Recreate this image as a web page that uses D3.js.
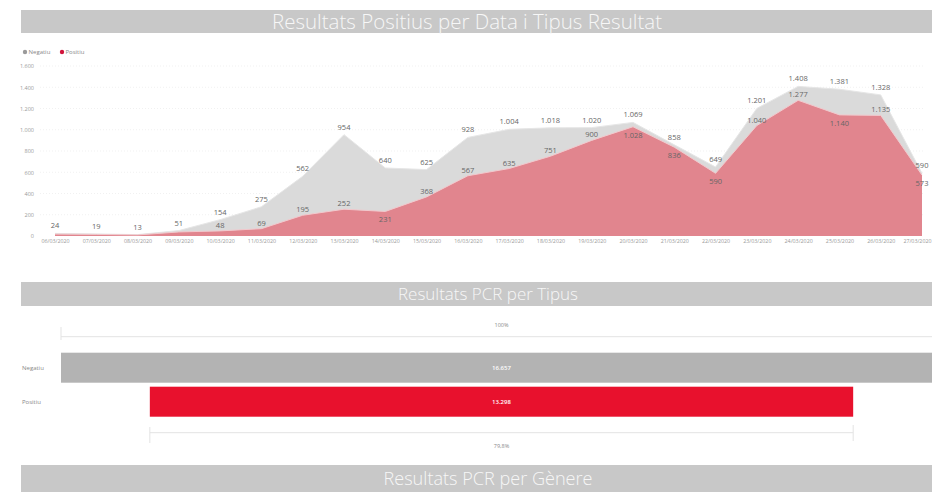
<!DOCTYPE html>
<html><head><meta charset="utf-8">
<script src="https://cdn.jsdelivr.net/npm/d3@7"></script>
<style>
body{margin:0;background:#fff;}
svg{display:block;font-family:"Open Sans","Noto Sans",sans-serif;}
</style>
</head><body>
<svg id="c" width="932" height="494"></svg>
<script>
// ---------- data ----------
const dates = ["06/03/2020","07/03/2020","08/03/2020","09/03/2020","10/03/2020","11/03/2020","12/03/2020","13/03/2020","14/03/2020","15/03/2020","16/03/2020","17/03/2020","18/03/2020","19/03/2020","20/03/2020","21/03/2020","22/03/2020","23/03/2020","24/03/2020","25/03/2020","26/03/2020","27/03/2020"];
const negatiu = [24,19,13,51,154,275,562,954,640,625,928,1004,1018,1020,1069,858,649,1201,1408,1381,1328,590];
const positiu = [18,15,10,38,48,69,195,252,231,368,567,635,751,900,1028,836,590,1040,1277,1140,1135,573];
const yTicks = [0,200,400,600,800,1000,1200,1400,1600];
const seriesNames = ["Negatiu","Positiu"];
const funnelCats = ["Negatiu","Positiu"];
const funnelVals = [16657,13298];
const titles = ["Resultats Positius per Data i Tipus Resultat","Resultats PCR per Tipus","Resultats PCR per Gènere"];

// ---------- setup ----------
const loc = d3.formatLocale({decimal:",",thousands:".",grouping:[3],currency:["","€"]});
const fmt = loc.format(",d");
const pct = loc.format(".1%");
const svg = d3.select("#c");
const greyFill = "#dadada", redFill = "#e1858e";
const greyDot = "#9a9a9a", redDot = "#d1143c";

// title bars
const bars = [
  {y:10,h:23,cx:467,w:390,fs:20},
  {y:282,h:24,cx:488,w:180,fs:17},
  {y:465,h:27,cx:488,w:209,fs:18}
];
bars.forEach((b,i)=>{
  svg.append("rect").attr("x",21).attr("y",b.y).attr("width",911).attr("height",b.h).attr("fill","#c8c8c8");
  svg.append("text").attr("x",b.cx).attr("y",b.y+b.h/2).attr("dy","0.35em")
    .attr("text-anchor","middle").attr("fill","#f7f7f7").attr("font-size",b.fs)
    .attr("font-weight",300)
    .attr("textLength",b.w).attr("lengthAdjust","spacingAndGlyphs").text(titles[i]);
});

// legend
const lg = svg.append("g").attr("font-size",6).attr("fill","#888");
const legX = [25,62];
seriesNames.forEach((n,i)=>{
  lg.append("circle").attr("cx",legX[i]).attr("cy",52).attr("r",2.2).attr("fill",i?redDot:greyDot);
  lg.append("text").attr("x",legX[i]+3.5).attr("y",52).attr("dy","0.35em").text(n);
});

// ---------- area chart ----------
const x = d3.scalePoint(dates,[55,922]);
const y = d3.scaleLinear([0,1600],[236,66]);

// gridlines
svg.append("g").selectAll("line").data(yTicks.slice(1)).join("line")
  .attr("x1",40).attr("x2",925).attr("y1",d=>y(d)).attr("y2",d=>y(d))
  .attr("stroke","#f1f1f1").attr("stroke-dasharray","1,2");

// y axis
const yAxis = d3.axisLeft(y).tickValues(yTicks).tickFormat(fmt).tickSize(0).tickPadding(0);
const ya = svg.append("g").attr("transform","translate(34,0)").call(yAxis);
ya.select(".domain").remove();
ya.selectAll("text").attr("font-size",5.5).attr("fill","#999").attr("font-family","Open Sans");

// x axis
const xAxis = d3.axisBottom(x).tickSize(0).tickPadding(3);
const xa = svg.append("g").attr("transform","translate(0,236)").call(xAxis);
xa.select(".domain").remove();
xa.selectAll("text").attr("font-size",5.3).attr("fill","#999").attr("font-family","Open Sans");
xa.selectAll(".tick").filter(d=>d===dates[dates.length-1]).select("text")
  .attr("text-anchor","end").attr("dx",9);

const area = vals => d3.area().x((d,i)=>x(dates[i])).y0(y(0)).y1(d=>y(d))(vals);
const line = vals => d3.line().x((d,i)=>x(dates[i])).y(d=>y(d))(vals);
svg.append("path").attr("d",area(negatiu)).attr("fill",greyFill);
svg.append("path").attr("d",line(negatiu)).attr("fill","none").attr("stroke","#e6e6e6").attr("stroke-width",1);
svg.append("path").attr("d",area(positiu)).attr("fill",redFill);
svg.append("path").attr("d",line(positiu)).attr("fill","none").attr("stroke","#f2c9cd").attr("stroke-width",1);

// data labels
const lab = svg.append("g").attr("font-size",7.5).attr("fill","#666").attr("text-anchor","middle");
negatiu.forEach((v,i)=>{
  lab.append("text").attr("x",x(dates[i])).attr("y",y(v)-5).text(fmt(v));
});
positiu.forEach((v,i)=>{
  if(v<45) return;
  const prev = i>0?positiu[i-1]:Infinity, next = i<positiu.length-1?positiu[i+1]:-Infinity;
  const localMin = v<=prev && v<=next+10;
  const below = (negatiu[i]-v<70) || localMin;
  lab.append("text").attr("x",x(dates[i])).attr("y",below? y(v)+11 : y(v)-3).text(fmt(v));
});

// ---------- funnel ----------
const maxF = d3.max(funnelVals);
const fw = d3.scaleLinear([0,maxF],[0,881]);
const fy = d3.scaleBand(funnelCats,[352.7,416.7]).paddingInner(4/34).paddingOuter(0);
const fcx = 501.5;
const fcol = ["#b3b3b3","#e8112d"];
svg.append("g").selectAll("rect").data(funnelVals).join("rect")
  .attr("x",d=>fcx-fw(d)/2).attr("y",(d,i)=>fy(funnelCats[i]))
  .attr("width",d=>fw(d)).attr("height",fy.bandwidth()).attr("fill",(d,i)=>fcol[i]);
svg.append("g").selectAll("text").data(funnelVals).join("text")
  .attr("x",fcx).attr("y",(d,i)=>fy(funnelCats[i])+fy.bandwidth()/2).attr("dy","0.35em")
  .attr("text-anchor","middle").attr("font-size",6).attr("font-weight",600).attr("fill","#fff")
  .text(d=>fmt(d));
svg.append("g").selectAll("text").data(funnelCats).join("text")
  .attr("x",22).attr("y",d=>fy(d)+fy.bandwidth()/2).attr("dy","0.35em")
  .attr("font-size",6).attr("fill","#888").text(d=>d);

// brackets
const br = svg.append("g").attr("stroke","#e3e3e3").attr("stroke-width",1).attr("fill","none");
const topL = fcx-fw(funnelVals[0])/2, topR = fcx+fw(funnelVals[0])/2;
br.append("line").attr("x1",topL).attr("x2",topR).attr("y1",336.7).attr("y2",336.7);
br.append("line").attr("x1",topL).attr("x2",topL).attr("y1",327).attr("y2",340);
const botL = fcx-fw(funnelVals[1])/2, botR = fcx+fw(funnelVals[1])/2;
br.append("line").attr("x1",botL).attr("x2",botR).attr("y1",432.7).attr("y2",432.7);
br.append("line").attr("x1",botL).attr("x2",botL).attr("y1",427).attr("y2",443);
br.append("line").attr("x1",botR).attr("x2",botR).attr("y1",425).attr("y2",441);
svg.append("text").attr("x",fcx).attr("y",325).attr("dy","0.35em").attr("text-anchor","middle")
  .attr("font-size",5.5).attr("fill","#888").text(pct(funnelVals[0]/maxF).replace(",0%","%"));
svg.append("text").attr("x",fcx).attr("y",446).attr("dy","0.35em").attr("text-anchor","middle")
  .attr("font-size",5.5).attr("fill","#888").text(pct(funnelVals[1]/maxF));
</script>
</body></html>
